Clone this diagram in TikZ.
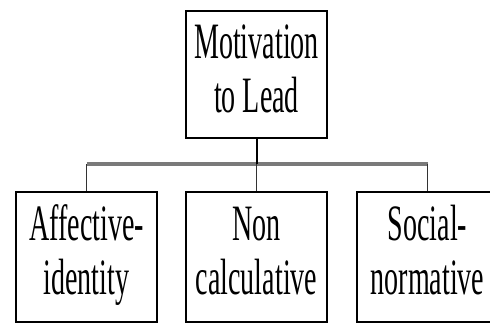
\documentclass[tikz,border=0pt]{standalone}
\usepackage{fontspec}
\setmainfont{Liberation Serif}
\usepackage{graphicx}
\usepackage{tikz}
\usetikzlibrary{positioning, calc}
\definecolor{bargray}{HTML}{7A7A7A}
\newcommand{\squeezed}[1]{\scalebox{0.55}[1]{\begin{tabular}{@{}c@{}}#1\end{tabular}}}

\begin{document}
\begin{tikzpicture}[x=1pt, y=-1pt,
    box/.style={draw, line width=1.4pt, inner sep=0pt, minimum width=141pt,
      font=\fontsize{51}{54}\selectfont},
    stem/.style={line width=2pt},
    bar/.style={bargray, line width=3.5pt},
    drop/.style={black!80, line width=1.3pt}
  ]
  \useasboundingbox (0,0) rectangle (490,324);
  \clip (0,0) rectangle (490,324);

  \node[box, minimum height=127pt] (lead) at (256.5,74.5) {\squeezed{Motivation\\to Lead}};

  \node[box, minimum height=130pt] (affect)  at (86.5,257)  {\squeezed{Affective-\\identity}};
  \node[box, minimum height=130pt] (noncalc) at (256.5,257) {\squeezed{Non\\calculative}};
  \node[box, minimum height=130pt] (social)  at (427.5,257) {\squeezed{Social-\\normative}};

  \coordinate (hub) at (lead.south |- 0,164);
  \draw[bar] (affect.north |- hub) -- (social.north |- hub);
  \draw[stem] (lead) -- (hub);
  \foreach \n in {affect, noncalc, social}
    \draw[drop] (\n.north |- hub) -- (\n);
\end{tikzpicture}
\end{document}
